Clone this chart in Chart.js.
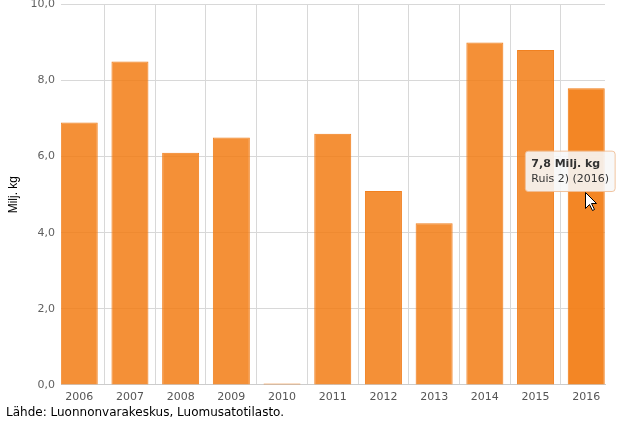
<!DOCTYPE html>
<html>
<head>
<meta charset="utf-8">
<script src="https://cdn.jsdelivr.net/npm/chart.js@4/dist/chart.umd.min.js"></script>
<style>
html,body{margin:0;padding:0;background:#fff;}
#wrap{position:relative;width:625px;height:423px;}
</style>
</head>
<body>
<div id="wrap"><canvas id="c" width="625" height="423"></canvas></div>
<script>
const years = ['2006','2007','2008','2009','2010','2011','2012','2013','2014','2015','2016'];
const values = [6.9, 8.5, 6.1, 6.5, 0.04, 6.6, 5.1, 4.25, 9.0, 8.8, 7.8];
const yTicks = [0, 2, 4, 6, 8, 10];
const seriesName = 'Ruis 2)';
const unit = 'Milj. kg';
const yTitle = 'Milj. kg';
const source = 'Lähde: Luonnonvarakeskus, Luomusatotilasto.';
const activeIndex = 10;

const fmt = v => v.toFixed(1).replace('.', ',');

Chart.Tooltip.positioners.refPos = function(elements) {
  if (!elements.length) return false;
  const el = elements[0].element;
  return { x: el.x - 16, y: el.y + 63 };
};

const cursorPlugin = {
  id: 'cursor',
  afterDraw(chart) {
    const meta = chart.getDatasetMeta(0);
    const el = meta.data[activeIndex];
    if (!el) return;
    const ctx = chart.ctx;
    const x = Math.round(el.x - 1) + 0.5, y = Math.round(el.y + 104) + 0.5;
    ctx.save();
    ctx.beginPath();
    ctx.moveTo(x, y);
    ctx.lineTo(x, y + 16);
    ctx.lineTo(x + 4, y + 12);
    ctx.lineTo(x + 7, y + 18);
    ctx.lineTo(x + 9, y + 17);
    ctx.lineTo(x + 6, y + 11);
    ctx.lineTo(x + 11, y + 11);
    ctx.closePath();
    ctx.fillStyle = '#fff';
    ctx.fill();
    ctx.strokeStyle = '#000';
    ctx.lineWidth = 1;
    ctx.stroke();
    ctx.restore();
  }
};

const chart = new Chart(document.getElementById('c'), {
  type: 'bar',
  data: {
    datasets: [{
      label: seriesName,
      data: years.map((y, i) => ({ x: i, y: values[i] })),
      backgroundColor: 'rgba(242,125,20,0.85)',
      borderColor: 'rgba(240,122,20,0.95)',
      hoverBackgroundColor: 'rgba(242,125,20,0.93)',
      hoverBorderColor: 'rgba(240,122,20,1)',
      borderWidth: 1,
      barPercentage: 0.73,
      categoryPercentage: 1.0
    }]
  },
  options: {
    responsive: false,
    animation: false,
    events: [],
    layout: { padding: { left: 6, right: 20, top: 0, bottom: 0 } },
    plugins: {
      legend: { display: false },
      title: {
        display: true,
        text: source,
        position: 'bottom',
        align: 'start',
        color: '#000',
        font: { family: 'DejaVu Sans', size: 12, weight: 'normal', lineHeight: 0.667 },
        padding: { top: 0, bottom: 6 }
      },
      tooltip: {
        enabled: true,
        position: 'refPos',
        xAlign: 'center',
        yAlign: 'top',
        caretSize: 0,
        caretPadding: 0,
        displayColors: false,
        backgroundColor: 'rgba(247,247,247,0.9)',
        borderColor: 'rgba(240,190,150,0.9)',
        borderWidth: 1,
        cornerRadius: 3,
        padding: { left: 6, right: 6, top: 6, bottom: 6 },
        titleColor: '#333',
        bodyColor: '#333',
        titleFont: { family: 'DejaVu Sans', size: 11, weight: 'bold' },
        bodyFont: { family: 'DejaVu Sans', size: 11 },
        titleMarginBottom: 2,
        callbacks: {
          title: items => fmt(values[items[0].dataIndex]) + ' ' + unit,
          label: item => seriesName + ' (' + years[item.dataIndex] + ')'
        }
      }
    },
    scales: {
      x: {
        type: 'linear',
        min: -0.36,
        max: 10.37,
        offset: false,
        grid: { color: '#d8d8d8', drawTicks: false },
        border: { display: true, color: '#cccccc' },
        ticks: {
          stepSize: 1,
          includeBounds: false,
          autoSkip: false,
          maxRotation: 0,
          padding: 2,
          color: '#555',
          font: { family: 'DejaVu Sans', size: 11, lineHeight: 1.82 },
          callback: v => (Number.isInteger(v) && years[v] !== undefined) ? years[v] : ''
        }
      },
      y: {
        min: 0,
        max: 10,
        afterBuildTicks: scale => { scale.ticks = yTicks.map(v => ({ value: v })); },
        afterFit: scale => { scale.width = 55; },
        grid: { color: '#d8d8d8', drawTicks: true, tickLength: 6, tickColor: 'rgba(0,0,0,0)' },
        border: { display: false },
        ticks: {
          padding: 0,
          color: '#606060',
          font: { family: 'DejaVu Sans', size: 11, lineHeight: 0.8 },
          callback: v => fmt(v)
        },
        title: {
          display: true,
          text: yTitle,
          color: '#000',
          font: { family: 'Liberation Sans', size: 12 },
          padding: { top: 0, bottom: 0 }
        }
      }
    }
  },
  plugins: [cursorPlugin]
});

chart.setActiveElements([{ datasetIndex: 0, index: activeIndex }]);
chart.tooltip.setActiveElements([{ datasetIndex: 0, index: activeIndex }], { x: 0, y: 0 });
chart.update();
</script>
</body>
</html>
